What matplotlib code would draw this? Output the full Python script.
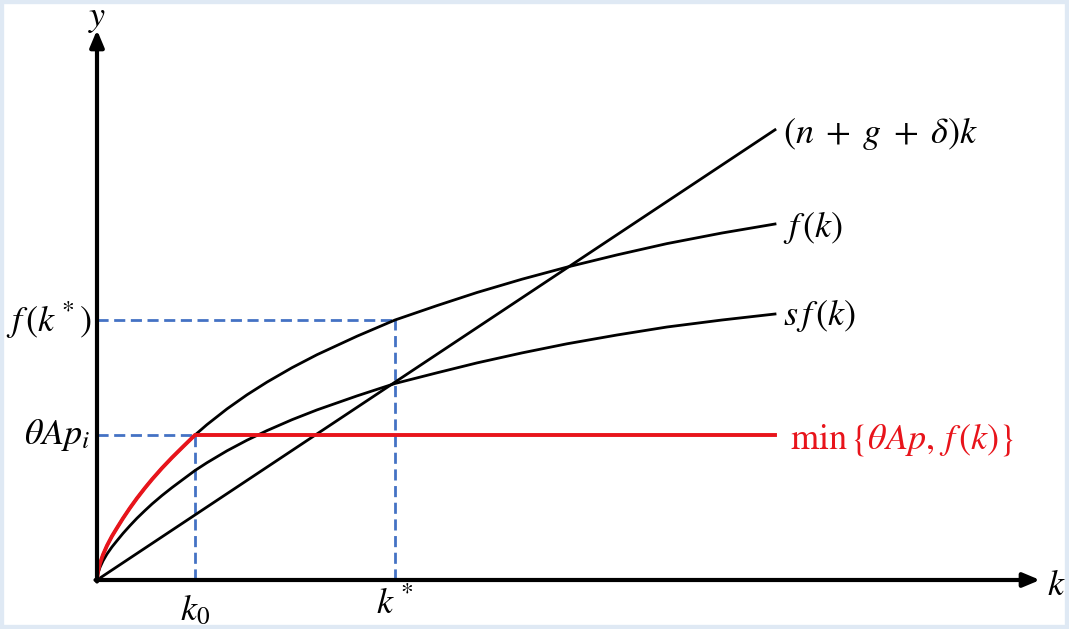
import numpy as np
import matplotlib.pyplot as plt
from matplotlib.patches import Rectangle

plt.rcParams['mathtext.fontset'] = 'stix'

# curve samples (k, f(k), s f(k))
k = np.array([0, 0.01, 0.03, 0.06, 0.10, 0.15, 0.20, 0.26, 0.33, 0.40, 0.48,
              0.55, 0.65, 0.75, 0.86, 0.98, 1.10, 1.30, 1.50, 1.70, 1.95,
              2.20, 2.60, 2.98, 3.40, 3.80, 4.25, 4.70, 5.20, 5.70, 6.25, 6.78])
f = np.array([0, 0.086, 0.167, 0.253, 0.344, 0.439, 0.521, 0.617, 0.721, 0.818,
              0.921, 1.006, 1.119, 1.224, 1.333, 1.45, 1.554, 1.711, 1.852, 1.979,
              2.123, 2.253, 2.438, 2.60, 2.744, 2.875, 3.008, 3.129, 3.251,
              3.364, 3.470, 3.56])
sf = np.array([0, 0.065, 0.126, 0.191, 0.260, 0.331, 0.393, 0.466, 0.544, 0.618,
               0.695, 0.760, 0.845, 0.924, 1.006, 1.095, 1.173, 1.292, 1.398,
               1.494, 1.603, 1.701, 1.841, 1.965, 2.072, 2.171, 2.271, 2.362,
               2.450, 2.530, 2.600, 2.66])
ngd = 0.664          # slope of (n+g+delta)k
theta_A_p = 1.45     # cap on output
k0 = 0.98
k_star = 2.98
f_star = 2.60

fig = plt.figure(figsize=(10.69, 6.29), dpi=100)
ax = fig.add_axes([0, 0, 1, 1])
ax.set_xlim(-0.97, 9.72)
ax.set_ylim(-0.49, 5.80)
ax.axis('off')

# frame around the picture
fig.patches.append(Rectangle((0, 0), 1, 1, transform=fig.transFigure,
                             fill=False, ec='#dfe9f4', lw=6))

# axes with arrows
arrow = dict(arrowstyle='-|>,head_length=1.0,head_width=0.42',
             lw=3, color='black', shrinkA=0, shrinkB=0)
ax.annotate('', xy=(0, 5.50), xytext=(0, -0.015), arrowprops=arrow)
ax.annotate('', xy=(9.43, 0), xytext=(-0.015, 0), arrowprops=arrow)

blue = '#4472c4'
dash = (0, (4, 2))
ax.plot([0, k_star], [f_star, f_star], color=blue, lw=2, ls=dash)
ax.plot([k_star, k_star], [0, f_star], color=blue, lw=2, ls=dash)
ax.plot([0, k0], [theta_A_p, theta_A_p], color=blue, lw=2, ls=dash)
ax.plot([k0, k0], [0, theta_A_p], color=blue, lw=2, ls=dash)

kl = np.array([0, k[-1]])
ax.plot(kl, ngd * kl, color='black', lw=2)
ax.plot(k, f, color='black', lw=2)
ax.plot(k, sf, color='black', lw=2)
ax.plot(k, np.minimum(f, theta_A_p), color='#e8141b', lw=2.8,
        solid_joinstyle='round')

fs = 26
ax.text(0, 5.62, r'$y$', fontsize=fs, ha='center', va='center')
ax.text(9.50, -0.05, r'$k$', fontsize=fs, ha='left', va='center')
ax.text(-0.05, f_star, r'$f\,(k^*)$', fontsize=fs, ha='right', va='center')
ax.text(-0.07, theta_A_p, r'$\theta A p_i$', fontsize=fs, ha='right', va='center')
ax.text(k0, -0.30, r'$k_0$', fontsize=fs, ha='center', va='center')
ax.text(k_star, -0.24, r'$k^*$', fontsize=fs, ha='center', va='center')

lx = k[-1] + 0.08
ax.text(lx, 4.47, r'$(n\;+\;g\;+\;\delta)k$', fontsize=fs, ha='left', va='center')
ax.text(lx, 3.53, r'$f\,(k)$', fontsize=fs, ha='left', va='center')
ax.text(lx, 2.65, r'$s\,f\,(k)$', fontsize=fs, ha='left', va='center')
ax.text(lx + 0.07, 1.40, r'$\mathrm{min}\,\{\theta Ap,\, f\,(k)\}$', fontsize=fs,
        ha='left', va='center', color='#e8141b')

fig.savefig('out.png', dpi=100)
